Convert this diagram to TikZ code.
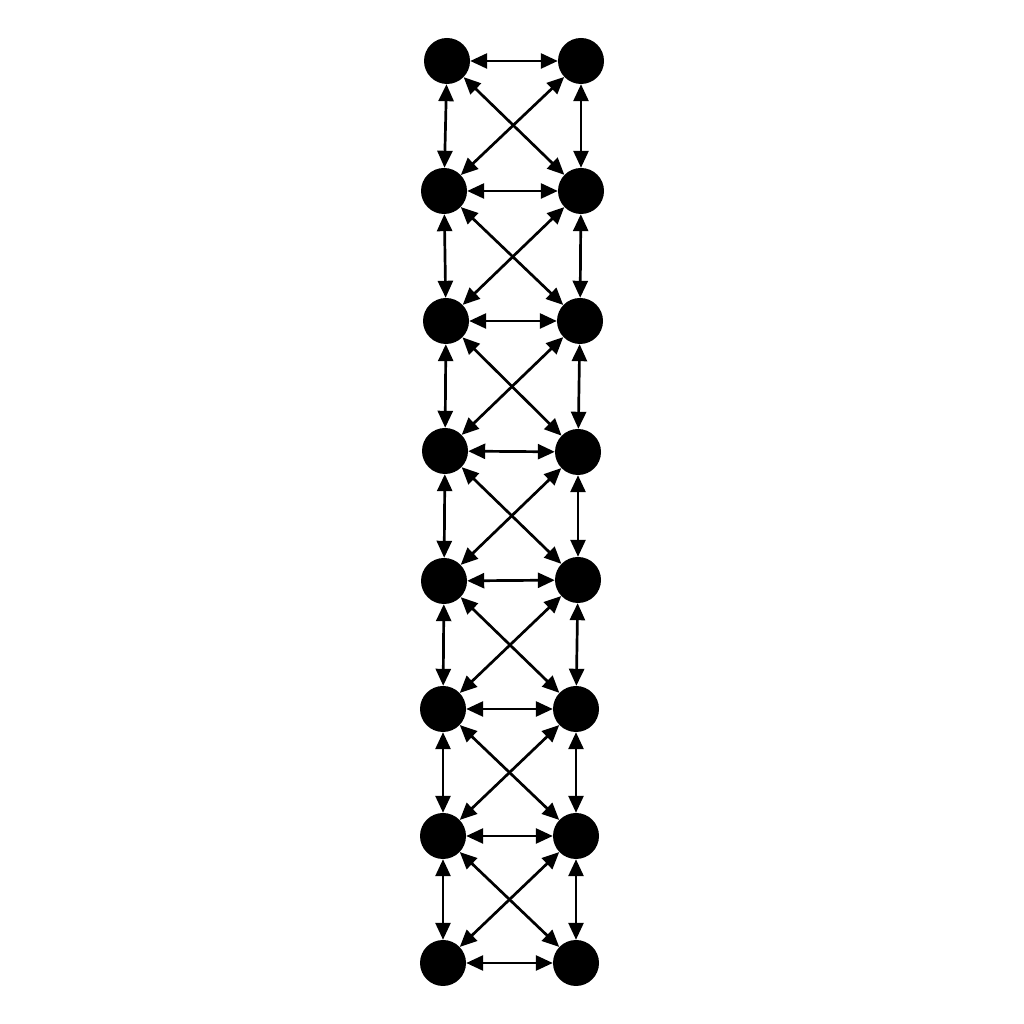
\documentclass[tikz,border=0pt]{standalone}
\usetikzlibrary{arrows.meta}
\begin{document}
\begin{tikzpicture}[x=1pt,y=1pt,
  dot/.style={circle,fill=black,inner sep=0pt,minimum size=46pt},
  link/.style={line width=2.7pt,{Triangle[length=17pt,width=15pt]}-{Triangle[length=17pt,width=15pt]}}]
\useasboundingbox (0,0) rectangle (1024,1024);
\node[dot] (L1) at (447,963) {};
\node[dot] (R1) at (581,963) {};
\node[dot] (L2) at (444,833) {};
\node[dot] (R2) at (581,833) {};
\node[dot] (L3) at (446,703) {};
\node[dot] (R3) at (580,703) {};
\node[dot] (L4) at (445,573) {};
\node[dot] (R4) at (578,572) {};
\node[dot] (L5) at (444,443) {};
\node[dot] (R5) at (578,444) {};
\node[dot] (L6) at (443,315) {};
\node[dot] (R6) at (576,315) {};
\node[dot] (L7) at (443,188) {};
\node[dot] (R7) at (576,188) {};
\node[dot] (L8) at (443,61) {};
\node[dot] (R8) at (576,61) {};
\foreach \i in {1,...,8} {\draw[link] (L\i) -- (R\i);}
\foreach \i/\j in {1/2,2/3,3/4,4/5,5/6,6/7,7/8} {
  \draw[link] (L\i) -- (L\j);
  \draw[link] (R\i) -- (R\j);
  \draw[link] (L\i) -- (R\j);
  \draw[link] (R\i) -- (L\j);
}
\end{tikzpicture}
\end{document}
